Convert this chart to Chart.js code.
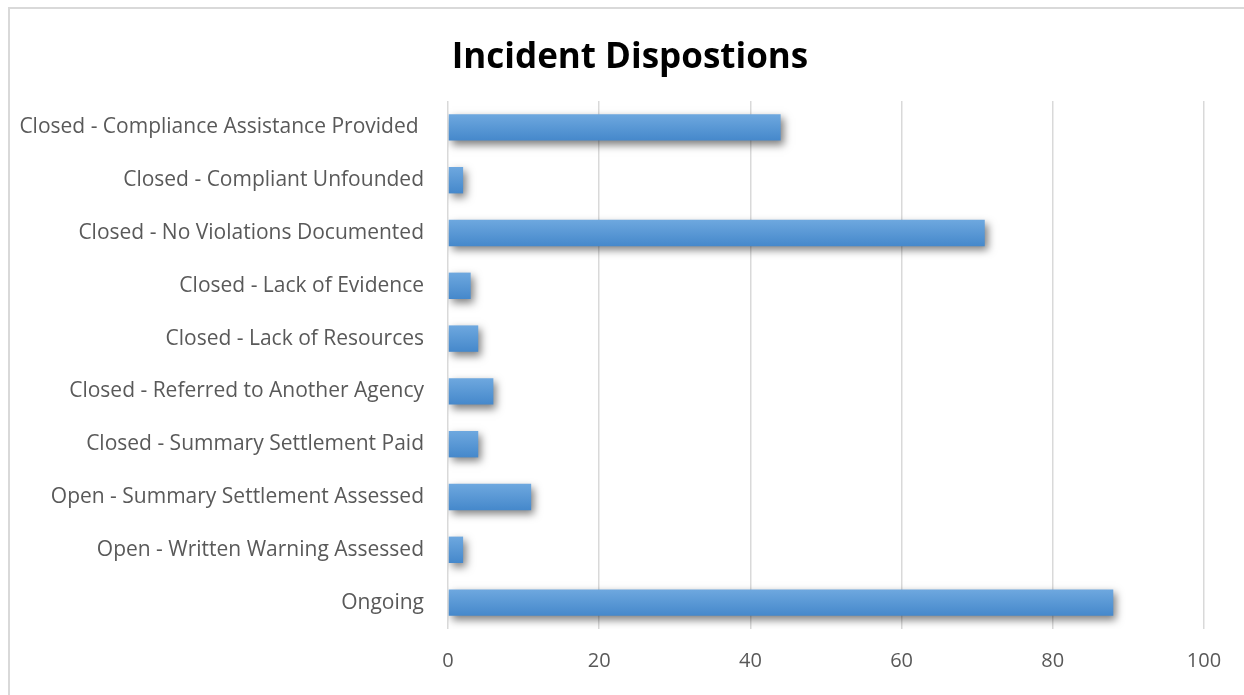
<!DOCTYPE html>
<html>
<head>
<meta charset="utf-8">
<title>Incident Dispostions</title>
<script src="https://cdn.jsdelivr.net/npm/chart.js@4.4.1/dist/chart.umd.min.js"></script>
<style>
  html, body { margin: 0; padding: 0; background: #fff; }
  #wrap { position: relative; width: 1244px; height: 695px; overflow: hidden; }
  #frame {
    position: absolute; left: 8px; top: 7px; width: 1300px; height: 800px;
    border-left: 2px solid #d9d9d9; border-top: 2px solid #d9d9d9;
  }
  canvas { position: absolute; left: 0; top: 0; }
</style>
</head>
<body>
<div id="wrap">
  <div id="frame"></div>
  <canvas id="myChart" width="1244" height="695"></canvas>
</div>
<script>
'use strict';

// categories, top to bottom
let categories = [
  'Closed - Compliance Assistance Provided ',
  'Closed - Compliant Unfounded',
  'Closed - No Violations Documented',
  'Closed - Lack of Evidence',
  'Closed - Lack of Resources',
  'Closed - Referred to Another Agency',
  'Closed - Summary Settlement Paid',
  'Open - Summary Settlement Assessed',
  'Open - Written Warning Assessed',
  'Ongoing'];

let counts = [44, 2, 71, 3, 4, 6, 4, 11, 2, 88];

let xTicks = [0, 20, 40, 60, 80, 100];

let chartTitle = 'Incident Dispostions';

const barPct = 0.5;

// gradient for each bar, lighter on top
function barGradient(context) {
  const chart = context.chart;
  const yScale = chart.scales.y;
  if (!yScale || !chart.chartArea) {
    return '#5596d5';
  }
  const center = yScale.getPixelForValue(context.dataIndex);
  const half = (yScale.height / categories.length) * barPct / 2;
  const g = chart.ctx.createLinearGradient(0, center - half, 0, center + half);
  g.addColorStop(0, '#6ea8df');
  g.addColorStop(1, '#4588cb');
  return g;
}

// soft drop shadow under the bars
const shadowPlugin = {
  id: 'barShadow',
  beforeDatasetsDraw(chart) {
    const ctx = chart.ctx;
    ctx.save();
    ctx.shadowColor = 'rgba(0, 0, 0, 0.5)';
    ctx.shadowBlur = 8;
    ctx.shadowOffsetX = 3;
    ctx.shadowOffsetY = 4;
  },
  afterDatasetsDraw(chart) {
    chart.ctx.restore();
  }
};

// title centred on the framed area (frame starts a bit in from the left)
const titlePlugin = {
  id: 'frameTitle',
  afterDraw(chart) {
    const ctx = chart.ctx;
    ctx.save();
    ctx.font = 'bold 35px "Open Sans"';
    ctx.fillStyle = '#000';
    ctx.textAlign = 'center';
    ctx.textBaseline = 'middle';
    ctx.fillText(chartTitle, (chart.width + 16) / 2, 58);
    ctx.restore();
  }
};

let ctx = document.getElementById('myChart').getContext('2d');
let myChart = new Chart(ctx, {
  type: 'bar',
  data: {
    labels: categories,
    datasets: [{
      label: 'Incidents',
      data: counts,
      backgroundColor: barGradient,
      borderWidth: 0,
      barPercentage: barPct,
      categoryPercentage: 1
    }]
  },
  plugins: [shadowPlugin, titlePlugin],
  options: {
    indexAxis: 'y',
    responsive: false,
    animation: false,
    layout: {
      padding: { left: 12, right: 40, top: 101, bottom: 0 }
    },
    plugins: {
      legend: { display: false },
      tooltip: { enabled: false },
      title: { display: false }
    },
    scales: {
      x: {
        min: 0,
        max: 100,
        afterBuildTicks(scale) {
          scale.ticks = xTicks.map(v => ({ value: v }));
        },
        afterFit(scale) {
          scale.height = 66;
        },
        grid: {
          color: '#d9d9d9',
          lineWidth: 1.5,
          drawTicks: false
        },
        border: { display: false },
        ticks: {
          color: '#595959',
          padding: 20,
          font: { family: 'Open Sans', size: 20 }
        }
      },
      y: {
        afterFit(scale) {
          scale.width = 436;
        },
        grid: { display: false, drawTicks: false },
        border: { display: false },
        ticks: {
          color: '#595959',
          padding: 24,
          font: { family: 'Open Sans', size: 21 }
        }
      }
    }
  }
});
</script>
</body>
</html>
